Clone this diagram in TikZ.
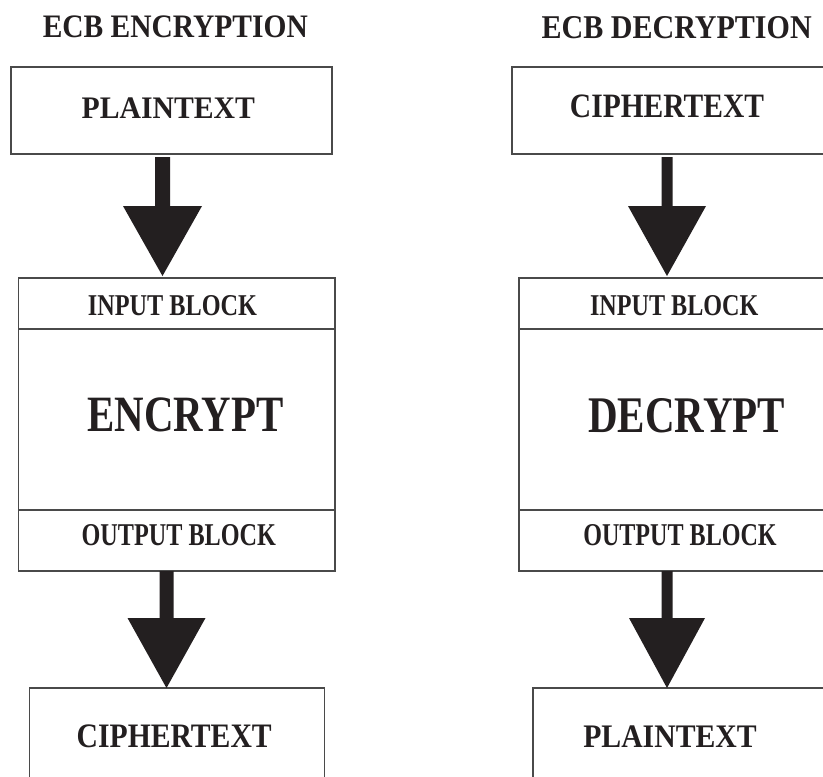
\documentclass[tikz,border=0pt]{standalone}
\usepackage{fontspec}
\setmainfont{Liberation Serif}
\usepackage{graphicx}
\usetikzlibrary{calc}
\definecolor{ink}{HTML}{231F20}
\definecolor{edge}{HTML}{4A4A4A}
% bold label squeezed to a given width and cap height (in pt)
\newcommand\fittext[3]{\resizebox{#1pt}{#2pt}{\bfseries #3}}
% thick block arrow: start, tip, shaft half width, head half width, head length
\newcommand\blockarrow[5]{%
  \fill[ink] let \p1=(#1), \p2=(#2) in
    (\x1-#3pt,\y1) -- (\x1+#3pt,\y1) -- (\x1+#3pt,\y2+#5pt) -- (\x2+#4pt,\y2+#5pt)
    -- (\x2,\y2) -- (\x2-#4pt,\y2+#5pt) -- (\x1-#3pt,\y2+#5pt) -- cycle;}

\begin{document}
\begin{tikzpicture}[x=1pt,y=-1pt,
  box/.style={draw=edge, line width=1.2pt, inner sep=0pt, outer sep=0pt},
  lbl/.style={inner sep=0pt, outer sep=0pt, text=ink}]
\clip (0,0) rectangle (823,777);
\fill[white] (0,0) rectangle (823,777);

% ---------------- encryption column ----------------
\node[lbl] (encTitle) at (175.3,27.2) {\fittext{265}{21.7}{ECB ENCRYPTION}};

\node[box, minimum width=321pt, minimum height=87pt] (encIn) at (171.5,110.5) {};
\node[lbl] (encInTxt) at (168.3,108.3) {\fittext{173.3}{20.7}{PLAINTEXT}};

\node[box, minimum width=316.3pt, minimum height=51pt]  (encInBlk)  at (176.85,303.5) {};
\node[box, minimum width=316.3pt, minimum height=181pt] (encCore)   at (176.85,419.5) {};
\node[box, minimum width=316.3pt, minimum height=61pt]  (encOutBlk) at (176.85,540.5) {};
\node[lbl] (encInBlkTxt)  at (172.5,306)   {\fittext{169}{20}{INPUT BLOCK}};
\node[lbl] (encCoreTxt)   at (185.3,414.8) {\fittext{196}{33.7}{ENCRYPT}};
\node[lbl] (encOutBlkTxt) at (178.8,535.5) {\fittext{194.3}{21}{OUTPUT BLOCK}};

\node[box, minimum width=295pt, minimum height=120pt] (encOut) at (177.2,748) {};
\node[lbl] (encOutTxt) at (174.2,736.7) {\fittext{195}{22.7}{CIPHERTEXT}};

\coordinate (encAx1) at (162.5,0);
\coordinate (encAx2) at (166.5,0);
\blockarrow{$(encIn.south -| encAx1)+(0,3)$}{$(encInBlk.north -| encAx1)+(0,-2)$}{7.5}{39.5}{70}
\blockarrow{encOutBlk.south -| encAx2}{encOut.north -| encAx2}{7}{39}{70}

% ---------------- decryption column ----------------
\node[lbl] (decTitle) at (676.7,27.5) {\fittext{270}{22}{ECB DECRYPTION}};

\node[box, minimum width=321pt, minimum height=87pt] (decIn) at (672.5,110.5) {};
\node[lbl] (decInTxt) at (667,106) {\fittext{194}{22.6}{CIPHERTEXT}};

\node[box, minimum width=316.3pt, minimum height=51pt]  (decInBlk)  at (677.15,303.5) {};
\node[box, minimum width=316.3pt, minimum height=181pt] (decCore)   at (677.15,419.5) {};
\node[box, minimum width=316.3pt, minimum height=61pt]  (decOutBlk) at (677.15,540.5) {};
\node[lbl] (decInBlkTxt)  at (674.2,306)   {\fittext{168.3}{20}{INPUT BLOCK}};
\node[lbl] (decCoreTxt)   at (686.7,415.3) {\fittext{196.7}{34}{DECRYPT}};
\node[lbl] (decOutBlkTxt) at (680,535.5)   {\fittext{193.4}{21}{OUTPUT BLOCK}};

\node[box, minimum width=317pt, minimum height=120pt] (decOut) at (691.5,748) {};
\node[lbl] (decOutTxt) at (670,736.2) {\fittext{173.4}{21.7}{PLAINTEXT}};

\coordinate (decAx) at (667,0);
\blockarrow{$(decIn.south -| decAx)+(0,3)$}{$(decInBlk.north -| decAx)+(0,-2)$}{5.5}{39}{70}
\blockarrow{decOutBlk.south -| decAx}{decOut.north -| decAx}{5.5}{38}{70}
\end{tikzpicture}
\end{document}
